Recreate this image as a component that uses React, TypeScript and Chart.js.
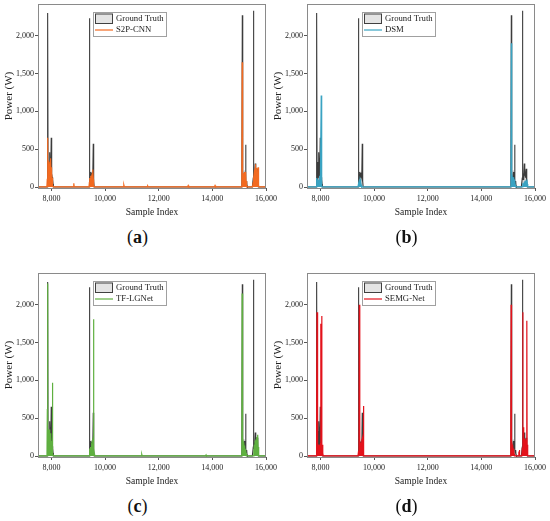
import { useEffect, useRef } from 'react'
import Chart from 'chart.js/auto'

const FONT = '"Liberation Serif", "Times New Roman", serif'

const xTicks = [8000, 10000, 12000, 14000, 16000]
const yTicks = [0, 500, 1000, 1500, 2000]

// [sample index, power W]
const groundTruth: [number, number][] = [
  [7500, 0], [7840, 0], [7850, 60], [7860, 150], [7868, 2300], [7876, 120], [7886, 100], [7896, 150],
  [7906, 330], [7916, 130], [7928, 160], [7944, 460], [7956, 120], [7968, 200], [7980, 150], [7993, 650],
  [8004, 150], [8016, 100], [8028, 130], [8040, 80], [8052, 100], [8064, 40], [8076, 0],
  [9380, 0], [9405, 0], [9415, 80], [9425, 2230], [9433, 100], [9445, 150], [9460, 120], [9475, 200],
  [9490, 130], [9505, 190], [9520, 150], [9535, 200], [9548, 120], [9560, 573], [9570, 150], [9582, 80], [9595, 0],
  [15070, 0], [15095, 0], [15105, 100], [15117, 2270], [15125, 150], [15140, 80], [15155, 120], [15170, 100],
  [15185, 160], [15200, 200], [15212, 100], [15228, 130], [15243, 560], [15252, 80], [15265, 40], [15280, 80],
  [15292, 20], [15305, 0],
  [15490, 0], [15515, 0], [15525, 120], [15535, 2330], [15543, 150], [15555, 100], [15570, 180], [15585, 120],
  [15600, 310], [15612, 150], [15625, 200], [15640, 130], [15655, 180], [15672, 240], [15685, 120], [15700, 60],
  [15715, 0], [16000, 0],
]

const s2pCnn: [number, number][] = [
  [7500, 3], [7830, 3], [7845, 100], [7858, 650], [7866, 150], [7878, 250], [7890, 180], [7902, 350],
  [7914, 200], [7926, 300], [7938, 150], [7950, 330], [7962, 200], [7975, 380], [7988, 150], [8000, 260],
  [8012, 180], [8024, 120], [8036, 60], [8050, 20], [8065, 3],
  [8820, 3], [8835, 50], [8850, 3],
  [9400, 3], [9415, 60], [9430, 120], [9445, 80], [9460, 150], [9475, 100], [9490, 130], [9505, 90],
  [9520, 180], [9535, 120], [9550, 230], [9562, 100], [9575, 40], [9590, 3],
  [10680, 3], [10700, 30], [10720, 3],
  [11570, 3], [11590, 15], [11610, 3],
  [13080, 3], [13100, 20], [13120, 3],
  [14080, 3], [14100, 20], [14120, 3],
  [15080, 3], [15100, 80], [15112, 1650], [15122, 200], [15135, 120], [15150, 180], [15165, 100], [15180, 150],
  [15195, 200], [15210, 120], [15225, 160], [15240, 200], [15255, 80], [15270, 30], [15285, 3],
  [15500, 3], [15520, 60], [15540, 120], [15560, 180], [15575, 130], [15590, 200], [15605, 300], [15618, 150],
  [15632, 200], [15645, 250], [15658, 120], [15672, 180], [15688, 100], [15703, 260], [15715, 80], [15730, 20],
  [15745, 3], [16000, 3],
]

const dsm: [number, number][] = [
  [7500, 3], [7840, 3], [7855, 60], [7868, 120], [7880, 40], [7900, 80], [7920, 60], [7940, 100],
  [7955, 50], [7970, 150], [7985, 120], [8000, 90], [8030, 1210], [8040, 80], [8055, 3],
  [9400, 3], [9420, 40], [9440, 70], [9460, 50], [9477, 100], [9500, 60], [9520, 30], [9540, 3],
  [15090, 3], [15105, 60], [15115, 1900], [15125, 100], [15140, 60], [15160, 120], [15180, 80], [15200, 130],
  [15220, 60], [15240, 100], [15260, 30], [15275, 3],
  [15520, 3], [15545, 40], [15570, 30], [15600, 60], [15640, 80], [15680, 70], [15700, 100], [15715, 40],
  [15730, 3], [16000, 3],
]

const tfLgNet: [number, number][] = [
  [7500, 3], [7835, 3], [7848, 620], [7855, 200], [7862, 2280], [7870, 300], [7882, 350], [7894, 200],
  [7906, 320], [7918, 250], [7930, 350], [7942, 200], [7955, 300], [7968, 180], [7982, 250], [7995, 150],
  [8010, 200], [8022, 120], [8034, 970], [8042, 100], [8055, 30], [8068, 3],
  [9410, 3], [9425, 100], [9440, 60], [9460, 120], [9480, 80], [9500, 150], [9520, 120], [9540, 200],
  [9555, 180], [9565, 120], [9577, 1810], [9585, 100], [9598, 30], [9610, 3],
  [11350, 3], [11368, 25], [11385, 3],
  [13750, 3], [13766, 15], [13782, 3],
  [15085, 3], [15100, 100], [15110, 2150], [15120, 150], [15135, 100], [15150, 160], [15165, 90], [15180, 140],
  [15195, 80], [15210, 120], [15225, 60], [15240, 90], [15255, 40], [15270, 3],
  [15530, 3], [15550, 80], [15565, 150], [15580, 100], [15595, 200], [15610, 130], [15625, 220], [15640, 150],
  [15655, 250], [15670, 180], [15690, 280], [15705, 120], [15720, 40], [15735, 3], [16000, 3],
]

const semgNet: [number, number][] = [
  [7500, 3], [7840, 3], [7852, 150], [7862, 100], [7873, 1900], [7882, 150], [7895, 100], [7908, 160],
  [7920, 120], [7935, 150], [7950, 100], [7965, 140], [7980, 120], [7995, 150], [8010, 1750], [8020, 120],
  [8035, 200], [8048, 1850], [8058, 100], [8070, 80], [8082, 150], [8094, 40], [8105, 3],
  [9400, 3], [9420, 60], [9438, 150], [9451, 2000], [9460, 150], [9475, 200], [9490, 130], [9505, 180],
  [9520, 150], [9535, 220], [9550, 160], [9565, 230], [9580, 180], [9590, 250], [9600, 660], [9610, 100], [9622, 3],
  [15080, 3], [15098, 100], [15109, 2000], [15118, 150], [15132, 100], [15145, 150], [15160, 90], [15175, 130],
  [15190, 60], [15205, 100], [15220, 30], [15235, 3],
  [15390, 3], [15400, 60], [15410, 3], [15418, 80], [15430, 3],
  [15510, 3], [15525, 100], [15545, 1900], [15552, 250], [15560, 380], [15572, 200], [15585, 250], [15600, 180],
  [15615, 230], [15630, 150], [15645, 200], [15660, 170], [15675, 220], [15695, 1790], [15705, 150], [15720, 60],
  [15735, 3], [16000, 3],
]

const panels = [
  { tag: 'a', name: 'S2P-CNN', color: '#f26a21', data: s2pCnn, left: 0, top: 0 },
  { tag: 'b', name: 'DSM', color: '#3aa3c2', data: dsm, left: 269, top: 0 },
  { tag: 'c', name: 'TF-LGNet', color: '#5fb040', data: tfLgNet, left: 0, top: 269 },
  { tag: 'd', name: 'SEMG-Net', color: '#e3121b', data: semgNet, left: 269, top: 269 },
]

type PanelProps = (typeof panels)[number]

function Panel({ tag, name, color, data, left, top }: PanelProps) {
  const canvasRef = useRef<HTMLCanvasElement | null>(null)

  useEffect(() => {
    if (!canvasRef.current) return

    const frameAndLegend = {
      id: 'frameAndLegend',
      afterDraw(chart: Chart) {
        const { ctx, chartArea } = chart
        ctx.save()
        ctx.strokeStyle = '#8a8a8a'
        ctx.lineWidth = 1
        ctx.strokeRect(chartArea.left + 0.5, chartArea.top + 0.5, chartArea.width - 1, chartArea.height)

        const bx = chartArea.left + 55
        const by = chartArea.top + 8
        ctx.fillStyle = '#fff'
        ctx.fillRect(bx, by, 73, 24)
        ctx.strokeStyle = '#a0a0a0'
        ctx.strokeRect(bx + 0.5, by + 0.5, 73, 24)

        ctx.fillStyle = '#e4e4e4'
        ctx.fillRect(bx + 2, by + 1.5, 18, 10)
        ctx.strokeStyle = '#404040'
        ctx.strokeRect(bx + 2.5, by + 2, 17, 9.5)

        ctx.strokeStyle = color
        ctx.lineWidth = 1.2
        ctx.beginPath()
        ctx.moveTo(bx + 2, by + 18)
        ctx.lineTo(bx + 20, by + 18)
        ctx.stroke()

        ctx.fillStyle = '#222'
        ctx.font = `8.7px ${FONT}`
        ctx.textBaseline = 'middle'
        ctx.fillText('Ground Truth', bx + 23, by + 7)
        ctx.fillText(name, bx + 23, by + 18)
        ctx.restore()
      },
    }

    const chart = new Chart(canvasRef.current, {
      type: 'line',
      data: {
        datasets: [
          {
            label: 'Ground Truth',
            data: groundTruth.map(([x, y]) => ({ x, y })),
            borderColor: '#3c3c3c',
            backgroundColor: 'rgba(190,190,190,0.7)',
            borderWidth: 1.1,
            fill: 'origin',
            pointRadius: 0,
            tension: 0,
            order: 2,
          },
          {
            label: name,
            data: data.map(([x, y]) => ({ x, y })),
            borderColor: color,
            backgroundColor: color,
            borderWidth: 1.2,
            fill: 'origin',
            pointRadius: 0,
            tension: 0,
            order: 1,
          },
        ],
      },
      options: {
        animation: false,
        responsive: true,
        maintainAspectRatio: false,
        layout: { padding: { top: 4, right: 14, left: 0, bottom: 0 } },
        plugins: { legend: { display: false }, tooltip: { enabled: false } },
        scales: {
          x: {
            type: 'linear',
            min: 7500,
            max: 16000,
            afterBuildTicks: (axis) => {
              axis.ticks = xTicks.map((v) => ({ value: v }))
            },
            afterFit: (axis) => {
              axis.height = 34
              axis.paddingLeft = 0
              axis.paddingRight = 0
            },
            grid: { drawOnChartArea: false, tickLength: 3, color: '#555' },
            border: { display: false },
            ticks: {
              maxRotation: 0,
              padding: 3,
              color: '#222',
              font: { family: FONT, size: 8 },
              callback: (v) => Number(v).toLocaleString('en-US'),
            },
            title: {
              display: true,
              text: 'Sample Index',
              color: '#222',
              font: { family: FONT, size: 9.5 },
              padding: { top: 0, bottom: 4 },
            },
          },
          y: {
            min: -13,
            max: 2420,
            afterBuildTicks: (axis) => {
              axis.ticks = yTicks.map((v) => ({ value: v }))
            },
            afterFit: (axis) => {
              axis.width = 38
              axis.paddingTop = 0
              axis.paddingBottom = 0
            },
            grid: { drawOnChartArea: false, tickLength: 3, color: '#555' },
            border: { display: false },
            ticks: {
              padding: 1,
              color: '#222',
              font: { family: FONT, size: 8 },
              callback: (v) => Number(v).toLocaleString('en-US'),
            },
            title: {
              display: true,
              text: 'Power (W)',
              color: '#222',
              font: { family: FONT, size: 11 },
              padding: { top: 3, bottom: 0 },
            },
          },
        },
      },
      plugins: [frameAndLegend],
    })

    return () => chart.destroy()
  }, [name, color, data])

  return (
    <div style={{ position: 'absolute', left, top, width: 280, height: 260 }}>
      <div style={{ position: 'absolute', left: 0, top: 0, width: 280, height: 222 }}>
        <canvas ref={canvasRef} />
      </div>
      <div
        style={{
          position: 'absolute',
          left: 0,
          top: 227,
          width: 275,
          textAlign: 'center',
          font: `18px ${FONT}`,
          color: '#111',
        }}
      >
        (<b>{tag}</b>)
      </div>
    </div>
  )
}

export default function App() {
  return (
    <div style={{ position: 'absolute', left: 0, top: 0, width: 550, height: 521, background: '#fff', overflow: 'hidden' }}>
      {panels.map((p) => (
        <Panel key={p.tag} {...p} />
      ))}
    </div>
  )
}
